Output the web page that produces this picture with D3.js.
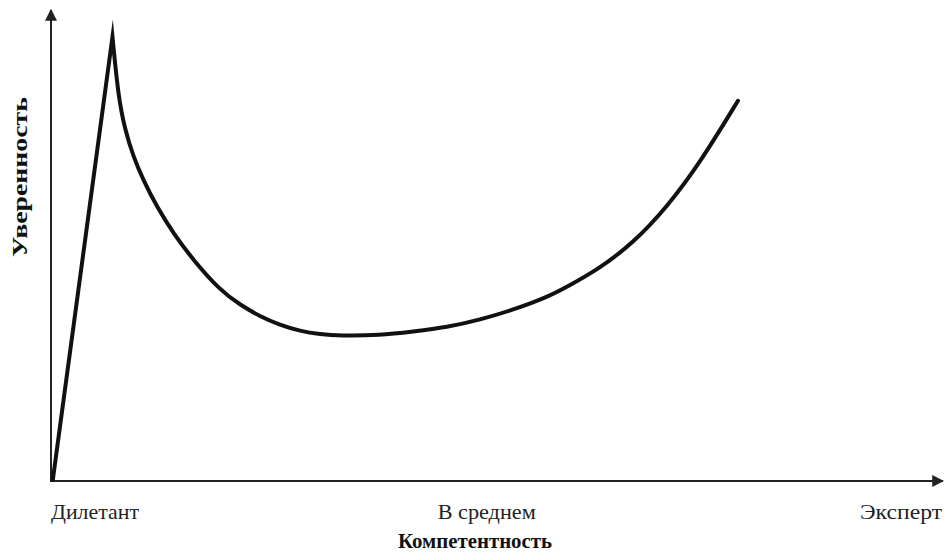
<!DOCTYPE html>
<html>
<head>
<meta charset="utf-8">
<script src="https://cdn.jsdelivr.net/npm/d3@7"></script>
<style>
  body { margin: 0; background: #fff; }
  svg { display: block; }
</style>
</head>
<body>
<div id="canvas"><svg width="944" height="553"></svg></div>
<script>
// competence (0..100) vs confidence (0..100)
var rise = [
  [0.2, 0.2],
  [6.9, 94.5]
];
var fall = [
  [6.9, 94.5],
  [7.55, 81.8],
  [8.31, 74.7],
  [9.24, 69.0],
  [10.36, 64.0],
  [11.86, 58.4],
  [13.73, 52.7],
  [15.97, 47.0],
  [18.97, 40.6],
  [21.21, 37.5],
  [23.46, 35.0],
  [25.70, 33.2],
  [27.95, 31.9],
  [30.19, 31.2],
  [32.44, 30.9],
  [36.92, 31.0],
  [40.63, 31.8],
  [44.44, 32.7],
  [48.15, 34.3],
  [51.85, 36.4],
  [55.67, 39.1],
  [57.91, 41.3],
  [61.62, 45.3],
  [65.32, 50.6],
  [69.14, 58.3],
  [72.84, 67.7],
  [77.10, 80.9]
];
var tickValues = [0, 48.9, 100];
var tickLabels = ["Дилетант", "В среднем", "Эксперт"];
var tickAnchors = ["start", "middle", "end"];
var tickWidths = [88, 98, 82];
var xTitle = "Компетентность";
var yTitle = "Уверенность";

var svg = d3.select("#canvas svg"),
    width = 944,
    height = 553,
    serif = "'Liberation Serif', 'DejaVu Serif', serif";

var x = d3.scaleLinear().domain([0, 100]).range([51, 942]);
var y = d3.scaleLinear().domain([0, 100]).range([481, 11]);

// arrowhead for both axes
var defs = svg.append("defs");
defs.append("marker")
  .attr("id", "arrow")
  .attr("viewBox", "0 -5 10 10")
  .attr("refX", 9)
  .attr("refY", 0)
  .attr("markerUnits", "userSpaceOnUse")
  .attr("markerWidth", 14)
  .attr("markerHeight", 12)
  .attr("orient", "auto")
  .append("path")
  .attr("d", "M0,-5L10,0L0,5Z")
  .attr("fill", "#222");

var g = svg.append("g");

// axes
g.append("line")
  .attr("x1", x(0)).attr("y1", y(0))
  .attr("x2", x(0)).attr("y2", 10)
  .attr("stroke", "#222").attr("stroke-width", 2)
  .attr("marker-end", "url(#arrow)");

g.append("line")
  .attr("x1", x(0) - 1).attr("y1", y(0))
  .attr("x2", 943).attr("y2", y(0))
  .attr("stroke", "#222").attr("stroke-width", 2)
  .attr("marker-end", "url(#arrow)");

// curve: straight rise then smooth curve, one path so the peak stays sharp
var lineStraight = d3.line().x(function (d) {return x(d[0]);}).y(function (d) {return y(d[1]);});
var lineSmooth = d3.line()
  .x(function (d) {return x(d[0]);})
  .y(function (d) {return y(d[1]);})
  .curve(d3.curveBasis);

var smoothPath = lineSmooth(fall).replace(/^M[^A-Za-z]*/, "");
g.append("path")
  .attr("d", lineStraight(rise) + smoothPath)
  .attr("fill", "none")
  .attr("stroke", "#111")
  .attr("stroke-width", 4)
  .attr("stroke-linejoin", "miter")
  .attr("stroke-miterlimit", 10)
  .attr("stroke-linecap", "round");

// tick labels
g.selectAll(".tick-label")
  .data(tickValues)
  .enter()
  .append("text")
  .attr("class", "tick-label")
  .attr("x", function (d) {return x(d);})
  .attr("y", 519)
  .attr("text-anchor", function (d, i) {return tickAnchors[i];})
  .attr("textLength", function (d, i) {return tickWidths[i];})
  .attr("lengthAdjust", "spacingAndGlyphs")
  .attr("font-family", serif)
  .attr("font-size", 21)
  .attr("fill", "#222")
  .text(function (d, i) {return tickLabels[i];});

// axis titles
g.append("text")
  .attr("x", 475)
  .attr("y", 548)
  .attr("text-anchor", "middle")
  .attr("textLength", 154)
  .attr("lengthAdjust", "spacingAndGlyphs")
  .attr("font-family", serif)
  .attr("font-size", 21)
  .attr("font-weight", "bold")
  .attr("fill", "#111")
  .text(xTitle);

g.append("text")
  .attr("transform", "translate(27,177) rotate(-90)")
  .attr("text-anchor", "middle")
  .attr("textLength", 160)
  .attr("lengthAdjust", "spacingAndGlyphs")
  .attr("font-family", serif)
  .attr("font-size", 22)
  .attr("font-weight", "bold")
  .attr("fill", "#111")
  .text(yTitle);
</script>
</body>
</html>
